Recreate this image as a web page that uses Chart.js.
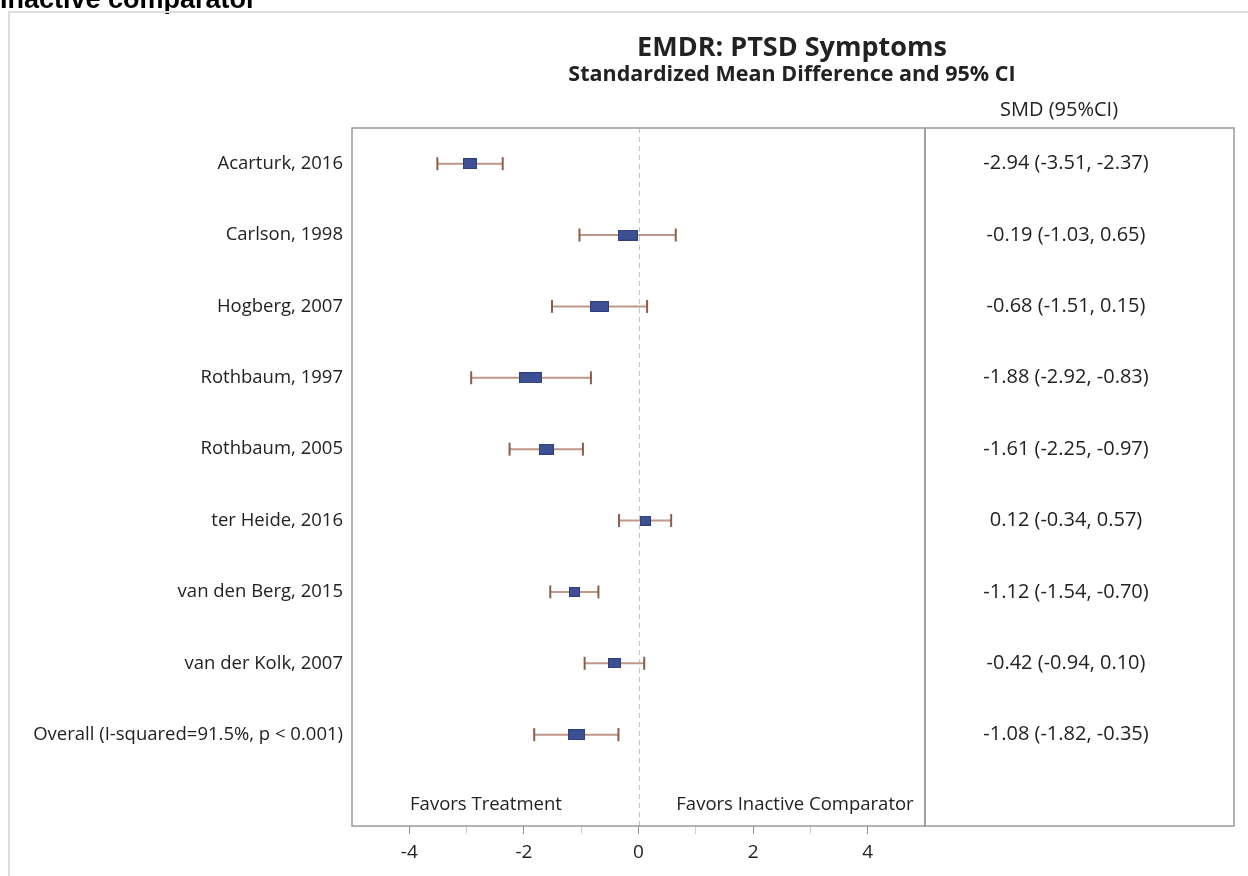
<!DOCTYPE html>
<html>
<head>
<meta charset="utf-8">
<title>EMDR: PTSD Symptoms</title>
<script src="https://cdn.jsdelivr.net/npm/chart.js@4.4.1/dist/chart.umd.min.js"></script>
<style>
  html, body { margin: 0; padding: 0; background: #fff; }
  #wrap { position: relative; width: 1248px; height: 876px; }
</style>
</head>
<body>
<div id="wrap"><canvas id="forest" width="1248" height="876"></canvas></div>
<script>
const studies = [
    'Acarturk, 2016',
    'Carlson, 1998',
    'Hogberg, 2007',
    'Rothbaum, 1997',
    'Rothbaum, 2005',
    'ter Heide, 2016',
    'van den Berg, 2015',
    'van der Kolk, 2007',
    'Overall (I-squared=91.5%, p < 0.001)'
];
const smd    = [-2.94, -0.19, -0.68, -1.88, -1.61, 0.12, -1.12, -0.42, -1.08];
const ciLow  = [-3.51, -1.03, -1.51, -2.92, -2.25, -0.34, -1.54, -0.94, -1.82];
const ciHigh = [-2.37,  0.65,  0.15, -0.83, -0.97, 0.57, -0.70,  0.10, -0.35];
const xMajorTicks = [-4, -2, 0, 2, 4];
const xMinorTicks = [-3, -1, 1, 3];

// box size per study (drawn size of the weight marker, px)
const boxW = [14, 20, 19, 23, 15, 11, 11, 13, 17];
const boxH = [11, 11, 11, 11, 11, 10, 10, 10, 11];

const FONT = '"Open Sans", "DejaVu Sans", sans-serif';
const TEXT = '#222';

function makeBox(w, h) {
    const c = document.createElement('canvas');
    c.width = w;
    c.height = h;
    const g = c.getContext('2d');
    g.fillStyle = '#3d4f95';
    g.fillRect(0, 0, w, h);
    g.strokeStyle = '#2f3f7e';
    g.lineWidth = 1;
    g.strokeRect(0.5, 0.5, w - 1, h - 1);
    return c;
}

const boxes = smd.map((_, i) => makeBox(boxW[i], boxH[i]));
const ciText = smd.map((v, i) => `${v.toFixed(2)} (${ciLow[i].toFixed(2)}, ${ciHigh[i].toFixed(2)})`);

// CI whiskers as one broken line, caps as rotated line points
const whiskers = [];
const caps = [];
smd.forEach((_, i) => {
    whiskers.push({ x: ciLow[i], y: i }, { x: ciHigh[i], y: i }, { x: null, y: null });
    caps.push({ x: ciLow[i], y: i }, { x: ciHigh[i], y: i });
});

const decorations = {
    id: 'decorations',
    beforeDraw(chart) {
        const ctx = chart.ctx;
        ctx.save();
        // cut-off heading above the frame
        ctx.fillStyle = '#000';
        ctx.font = 'bold 27px "Liberation Sans", Arial, sans-serif';
        ctx.textBaseline = 'alphabetic';
        ctx.textAlign = 'left';
        ctx.fillText('Inactive comparator', 0, 8);

        // outer frame
        ctx.strokeStyle = '#dcdcdc';
        ctx.lineWidth = 2;
        ctx.beginPath();
        ctx.moveTo(9, 876);
        ctx.lineTo(9, 12);
        ctx.lineTo(1248, 12);
        ctx.stroke();

        // titles
        ctx.fillStyle = TEXT;
        ctx.textAlign = 'center';
        ctx.textBaseline = 'middle';
        ctx.font = 'bold 27px ' + FONT;
        ctx.fillText('EMDR: PTSD Symptoms', 792, 48);
        ctx.font = 'bold 21.5px ' + FONT;
        ctx.fillText('Standardized Mean Difference and 95% CI', 792, 75);
        ctx.font = '20px ' + FONT;
        ctx.fillText('SMD (95%CI)', 1059, 110);
        ctx.restore();
    },
    beforeDatasetsDraw(chart) {
        const ctx = chart.ctx;
        const area = chart.chartArea;
        const xs = chart.scales.x;
        const ys = chart.scales.y;
        ctx.save();

        // line of no effect
        const x0 = Math.round(xs.getPixelForValue(0)) + 0.5;
        ctx.strokeStyle = '#c4c4c4';
        ctx.lineWidth = 1;
        ctx.setLineDash([5, 4]);
        ctx.beginPath();
        ctx.moveTo(x0, area.top);
        ctx.lineTo(x0, area.bottom);
        ctx.stroke();
        ctx.setLineDash([]);

        // plot box and the estimate panel
        ctx.strokeStyle = '#9a9a9a';
        ctx.lineWidth = 1.5;
        ctx.strokeRect(area.left, area.top, area.right - area.left, area.bottom - area.top);
        ctx.strokeRect(area.right, area.top, 1234 - area.right, area.bottom - area.top);

        // direction labels
        ctx.fillStyle = TEXT;
        ctx.font = '18.5px ' + FONT;
        ctx.textAlign = 'center';
        ctx.textBaseline = 'middle';
        ctx.fillText('Favors Treatment', 486, 805);
        ctx.fillText('Favors Inactive Comparator', 795, 805);

        // SMD (95% CI) column
        ctx.font = '20px ' + FONT;
        ciText.forEach((t, i) => {
            ctx.fillText(t, 1066, ys.getPixelForValue(i));
        });
        ctx.restore();
    }
};

new Chart(document.getElementById('forest'), {
    type: 'scatter',
    data: {
        datasets: [
            {
                label: 'SMD',
                data: smd.map((v, i) => ({ x: v, y: i })),
                pointStyle: boxes,
                pointRadius: 5
            },
            {
                label: 'caps',
                data: caps,
                pointStyle: 'line',
                rotation: 90,
                pointRadius: 6.5,
                borderColor: '#8d5d4b',
                borderWidth: 2
            },
            {
                label: '95% CI',
                data: whiskers,
                showLine: true,
                spanGaps: false,
                pointRadius: 0,
                borderColor: '#bf9786',
                borderWidth: 2
            }
        ]
    },
    options: {
        responsive: false,
        animation: false,
        events: [],
        devicePixelRatio: 1,
        layout: { padding: { top: 128, right: 323, left: 0, bottom: 0 } },
        plugins: {
            legend: { display: false },
            tooltip: { enabled: false }
        },
        scales: {
            x: {
                type: 'linear',
                min: -5,
                max: 5,
                afterBuildTicks: s => {
                    s.ticks = [...xMajorTicks, ...xMinorTicks].sort((a, b) => a - b).map(v => ({ value: v }));
                },
                afterFit: s => { s.height = 50; },
                border: { display: false },
                grid: {
                    drawOnChartArea: false,
                    drawTicks: true,
                    tickLength: 8,
                    color: c => xMajorTicks.includes(c.tick.value) ? '#8f8f8f' : '#cfcfcf'
                },
                ticks: {
                    autoSkip: false,
                    maxRotation: 0,
                    padding: 7,
                    color: TEXT,
                    font: { family: FONT, size: 19 },
                    callback: v => xMajorTicks.includes(v) ? String(v) : ''
                }
            },
            y: {
                type: 'linear',
                reverse: true,
                min: -0.5,
                max: 9.28,
                afterBuildTicks: s => {
                    s.ticks = studies.map((_, i) => ({ value: i }));
                },
                afterFit: s => { s.width = 352; },
                border: { display: false },
                grid: { display: false, drawTicks: false },
                ticks: {
                    autoSkip: false,
                    padding: 9,
                    color: TEXT,
                    font: { family: FONT, size: 18.5 },
                    callback: v => studies[v]
                }
            }
        }
    },
    plugins: [decorations]
});
</script>
</body>
</html>
